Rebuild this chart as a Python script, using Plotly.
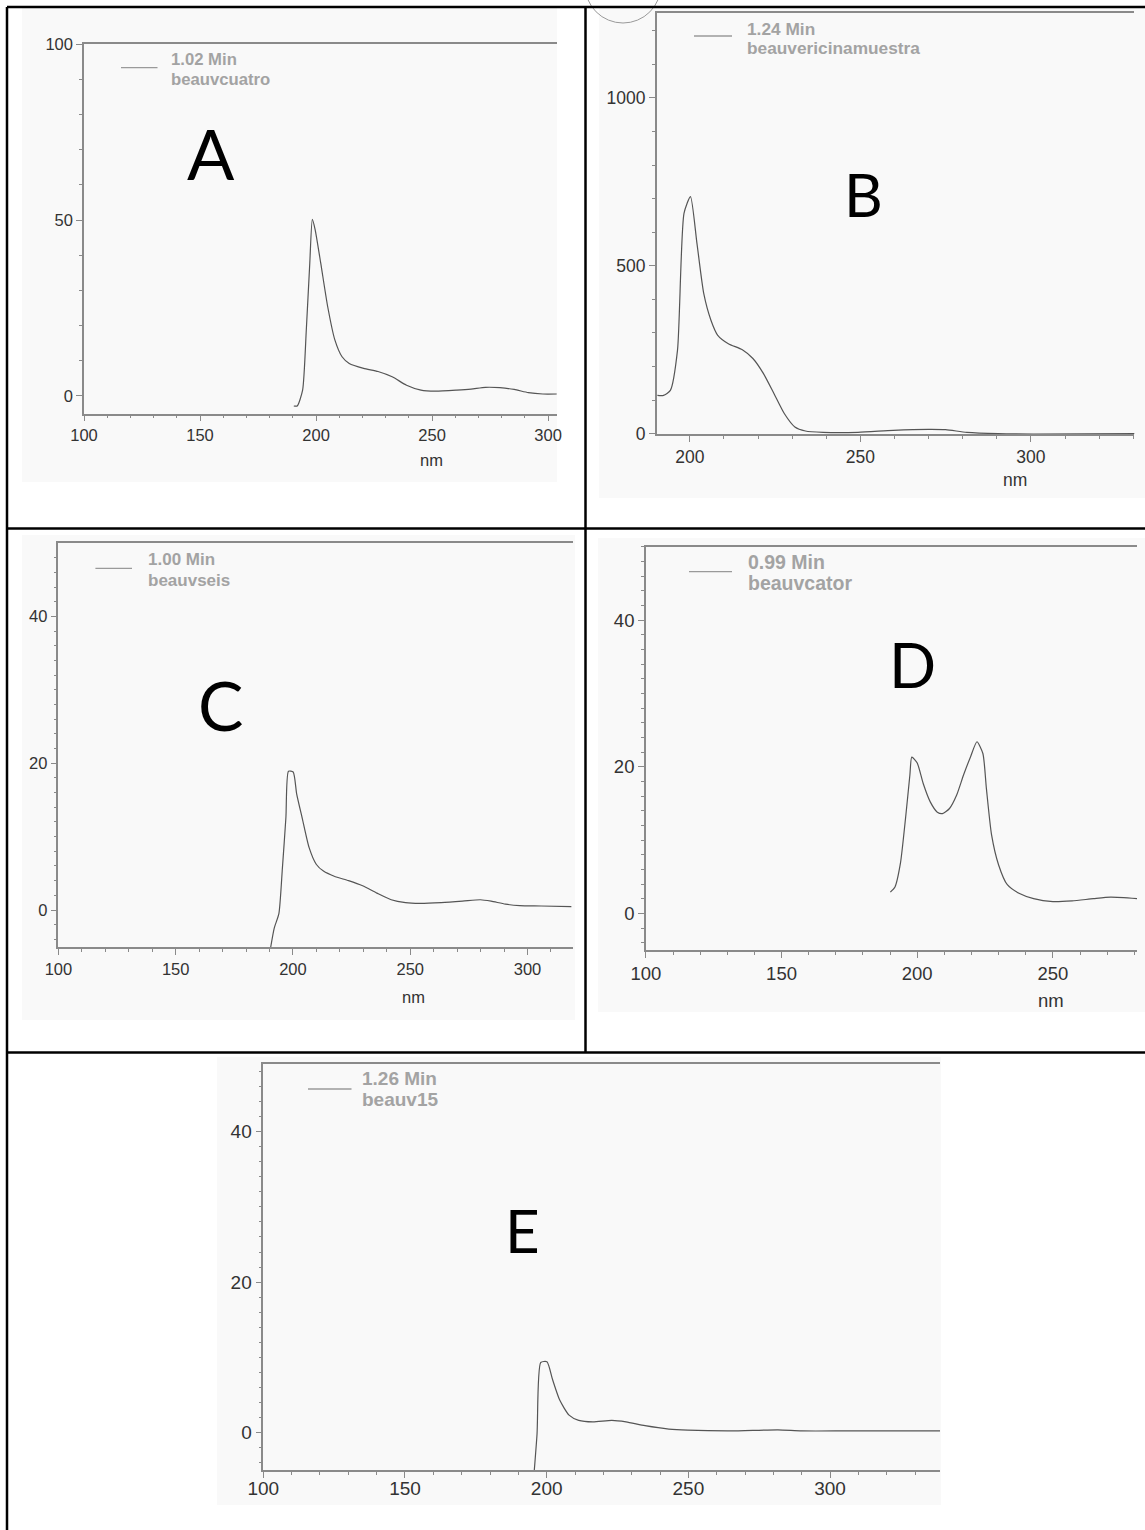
import plotly.graph_objects as go

W, H = 1145, 1530

# ---------------- data ----------------
a_nm = [190.4, 191.9, 194.2, 195.8, 197.3, 198.4, 199.6, 202.0, 205.0, 208.1, 211.2, 214.3,
        220.5, 226.7, 232.8, 239.0, 245.2, 251.4, 260.6, 266.8, 273.0, 279.2, 285.4, 291.5,
        297.7, 303.9]
a_abs = [-2.9, -2.9, 1.6, 18.8, 37.8, 50.2, 47.3, 37.8, 25.4, 15.9, 11.1, 9.2,
         7.8, 6.9, 5.4, 3.0, 1.6, 1.3, 1.6, 1.9, 2.4, 2.3, 1.8, 0.9,
         0.5, 0.5]

b_nm = [190.5, 192.3, 194.3, 196.4, 198.3, 200.2, 202.1, 204.1, 206.2, 208.2, 211.3, 215.4,
        218.5, 221.6, 224.7, 227.7, 230.8, 233.9, 239.1, 249.3, 259.6, 269.9, 275.0, 281.2,
        290.4, 300.7, 330.5]
b_abs = [114, 114, 129, 249, 656, 706, 567, 417, 338, 293, 268, 250,
         224, 179, 119, 60, 20, 8, 4, 4, 10, 13, 12, 4,
         0, -1, 0]

c_nm = [189.0, 192.0, 194.0, 195.5, 197.0, 198.1, 200.1, 201.6, 203.9, 206.9, 210.0, 213.0,
        217.6, 223.7, 229.7, 235.8, 241.9, 248.0, 254.0, 263.2, 272.3, 279.9, 284.5, 290.6,
        296.7, 305.8, 318.7]
c_abs = [-8.0, -2.5, -0.5, 5.7, 12.6, 18.9, 18.8, 15.8, 12.6, 8.5, 6.2, 5.3,
         4.6, 4.0, 3.3, 2.3, 1.4, 1.0, 0.9, 1.0, 1.2, 1.4, 1.2, 0.8,
         0.6, 0.55, 0.45]

d_nm = [190.1, 191.8, 193.8, 195.7, 197.3, 198.0, 200.0, 202.2, 204.8, 207.4, 209.3, 211.9,
        214.5, 217.1, 219.7, 222.0, 224.2, 225.5, 227.4, 230.0, 233.2, 237.7, 242.9, 250.0,
        257.1, 264.9, 271.3, 281.0]
d_abs = [2.9, 3.6, 6.8, 13.0, 18.9, 21.3, 20.5, 17.7, 15.2, 13.8, 13.6, 14.3,
         16.1, 18.9, 21.4, 23.4, 21.8, 17.0, 10.7, 6.6, 3.9, 2.7, 2.0, 1.6,
         1.7, 2.0, 2.2, 2.0]

e_nm = [195.0, 196.6, 197.9, 200.1, 202.1, 204.6, 207.9, 211.3, 216.3, 223.0, 228.0, 234.7,
        243.1, 249.8, 264.9, 281.6, 290.0, 306.7, 339.3]
e_abs = [-8.0, -0.2, 9.3, 9.4, 7.0, 4.3, 2.3, 1.6, 1.4, 1.6, 1.4, 0.9,
         0.45, 0.3, 0.2, 0.35, 0.2, 0.2, 0.2]

panel_letters = ["A", "B", "C", "D", "E"]
legend_times = ["1.02 Min", "1.24 Min", "1.00 Min", "0.99 Min", "1.26 Min"]
legend_names = ["beauvcuatro", "beauvericinamuestra", "beauvseis", "beauvcator", "beauv15"]
series_x = [a_nm, b_nm, c_nm, d_nm, e_nm]
series_y = [a_abs, b_abs, c_abs, d_abs, e_abs]

# ---------------- layout geometry (pixels) ----------------
panels = [
    dict(l=84, r=556.7, t=44.3, b=413.7, xr=[100, 303.7], yr=[-5.1, 100], ydt=50, ymin=10,
         scan=(22, 8, 557, 482), nm=(431, 460), letter=(211, 153, 70),
         leg=(121, 157.5, 67.7, 169, 59.3, 79), tfs=16.5, lfs=16.7, xso=0),
    dict(l=656.7, r=1134.3, t=13.3, b=434.3, xr=[190.3, 330.3], yr=[-1.8, 1252], ydt=500, ymin=100,
         scan=(599, 8, 1145, 498), nm=(1015, 480), letter=(863, 194, 60),
         leg=(694, 732, 36, 745, 29, 48), tfs=17.5, lfs=17.3, xso=0),
    dict(l=58.4, r=573, t=543.3, b=947.3, xr=[100, 319.4], yr=[-5.08, 49.96], ydt=20, ymin=2,
         scan=(22, 535, 575, 1020), nm=(413, 997), letter=(220, 705, 68),
         leg=(95.4, 132, 568.3, 145.6, 559, 580), tfs=16.5, lfs=17, xso=0),
    dict(l=645.9, r=1137, t=546.7, b=950, xr=[100, 281.0], yr=[-5.0, 50.0], ydt=20, ymin=2,
         scan=(598, 538, 1145, 1012), nm=(1051, 1000), letter=(913, 664, 62),
         leg=(689, 732, 571.7, 746, 562, 583), tfs=18.5, lfs=19.5, xso=0),
    dict(l=263.3, r=940, t=1063.7, b=1470, xr=[100, 338.8], yr=[-5.0, 49.05], ydt=20, ymin=2,
         scan=(217, 1057, 941, 1505), nm=None, letter=(522, 1230, 60),
         leg=(308, 351.5, 1089, 360, 1078, 1099), tfs=19, lfs=19, xso=-6),
]


def px(x):
    return x / W


def py(y):
    return 1 - y / H


AX = "#8a8a8a"
FAM = "Liberation Sans, Arial, sans-serif"
TXT = "#333333"
LEGCOL = "#a3a3a3"

fig = go.Figure()
shapes = []
annotations = []

for i, p in enumerate(panels):
    n = "" if i == 0 else str(i + 1)
    tf = dict(family=FAM, size=p["tfs"], color=TXT)
    fig.add_trace(go.Scatter(x=series_x[i], y=series_y[i], mode="lines",
                             line=dict(color="#555555", width=1.2, shape="spline", smoothing=0.6),
                             xaxis="x" + n, yaxis="y" + n, showlegend=False, hoverinfo="skip"))
    fig.layout["xaxis" + n] = dict(
        domain=[px(p["l"]), px(p["r"])], range=p["xr"], anchor="y" + n, automargin=False,
        showline=True, linecolor=AX, linewidth=1.5, mirror=True,
        ticks="outside", ticklen=6, tickwidth=1.2, tickcolor=AX, ticklabelstandoff=p["xso"],
        tick0=0, dtick=50, showgrid=False, zeroline=False, tickfont=tf,
        minor=dict(dtick=10, tick0=0, ticks="outside", ticklen=3, tickcolor=AX, showgrid=False),
    )
    fig.layout["yaxis" + n] = dict(
        domain=[py(p["b"]), py(p["t"])], range=p["yr"], anchor="x" + n, automargin=False,
        showline=True, linecolor=AX, linewidth=1.5, mirror=False,
        ticks="outside", ticklen=6, tickwidth=1.2, tickcolor=AX,
        tick0=0, dtick=p["ydt"], showgrid=False, zeroline=False, tickfont=tf,
        minor=dict(dtick=p["ymin"], tick0=0, ticks="outside", ticklen=3, tickcolor=AX, showgrid=False),
    )
    sx0, sy0, sx1, sy1 = p["scan"]
    shapes.append(dict(type="rect", xref="paper", yref="paper", x0=px(sx0), x1=px(sx1),
                       y0=py(sy1), y1=py(sy0), fillcolor="#f9f9f9", line=dict(width=0),
                       layer="below"))
    lx0, lx1, ly, tx, ty1, ty2 = p["leg"]
    shapes.append(dict(type="line", xref="paper", yref="paper", x0=px(lx0), x1=px(lx1),
                       y0=py(ly), y1=py(ly), line=dict(color="#9a9a9a", width=1.3)))
    lf = dict(family=FAM, size=p["lfs"], color=LEGCOL)
    annotations.append(dict(xref="paper", yref="paper", x=px(tx), y=py(ty1), xanchor="left",
                            yanchor="middle", showarrow=False, text="<b>%s</b>" % legend_times[i],
                            font=lf))
    annotations.append(dict(xref="paper", yref="paper", x=px(tx), y=py(ty2), xanchor="left",
                            yanchor="middle", showarrow=False, text="<b>%s</b>" % legend_names[i],
                            font=lf))
    if p["nm"]:
        annotations.append(dict(xref="paper", yref="paper", x=px(p["nm"][0]), y=py(p["nm"][1]),
                                xanchor="center", yanchor="middle", showarrow=False, text="nm",
                                font=dict(family=FAM, size=p["tfs"], color=TXT)))
    lxp, lyp, lsz = p["letter"]
    annotations.append(dict(xref="paper", yref="paper", x=px(lxp), y=py(lyp), xanchor="center",
                            yanchor="middle", showarrow=False, text=panel_letters[i],
                            font=dict(family="Lato, Open Sans, sans-serif", size=lsz, color="#000000")))

# scanning artefact (arc) at the top-left of panel B
shapes.append(dict(type="circle", xref="paper", yref="paper", x0=px(585), x1=px(661),
                   y0=py(23), y1=py(-53), line=dict(color="#9a9a9a", width=1)))

# table borders
BL = dict(color="#000000", width=2.5)
for (x0, y0, x1, y1) in [(7, 7, 1145, 7), (7, 7, 7, 1530), (7, 528.5, 1145, 528.5),
                         (7, 1052.5, 1145, 1052.5), (585.5, 7, 585.5, 1052.5)]:
    shapes.append(dict(type="line", xref="paper", yref="paper", x0=px(x0), x1=px(x1),
                       y0=py(y0), y1=py(y1), line=BL, layer="above"))

fig.update_layout(width=W, height=H, margin=dict(l=0, r=0, t=0, b=0, pad=0, autoexpand=False),
                  paper_bgcolor="#ffffff", plot_bgcolor="rgba(0,0,0,0)",
                  shapes=shapes, annotations=annotations, showlegend=False)

fig.write_html("out.html", config={"displayModeBar": False},
               post_script="document.body.style.margin='0';document.body.style.padding='0';"
                           "document.body.style.overflow='hidden';")
